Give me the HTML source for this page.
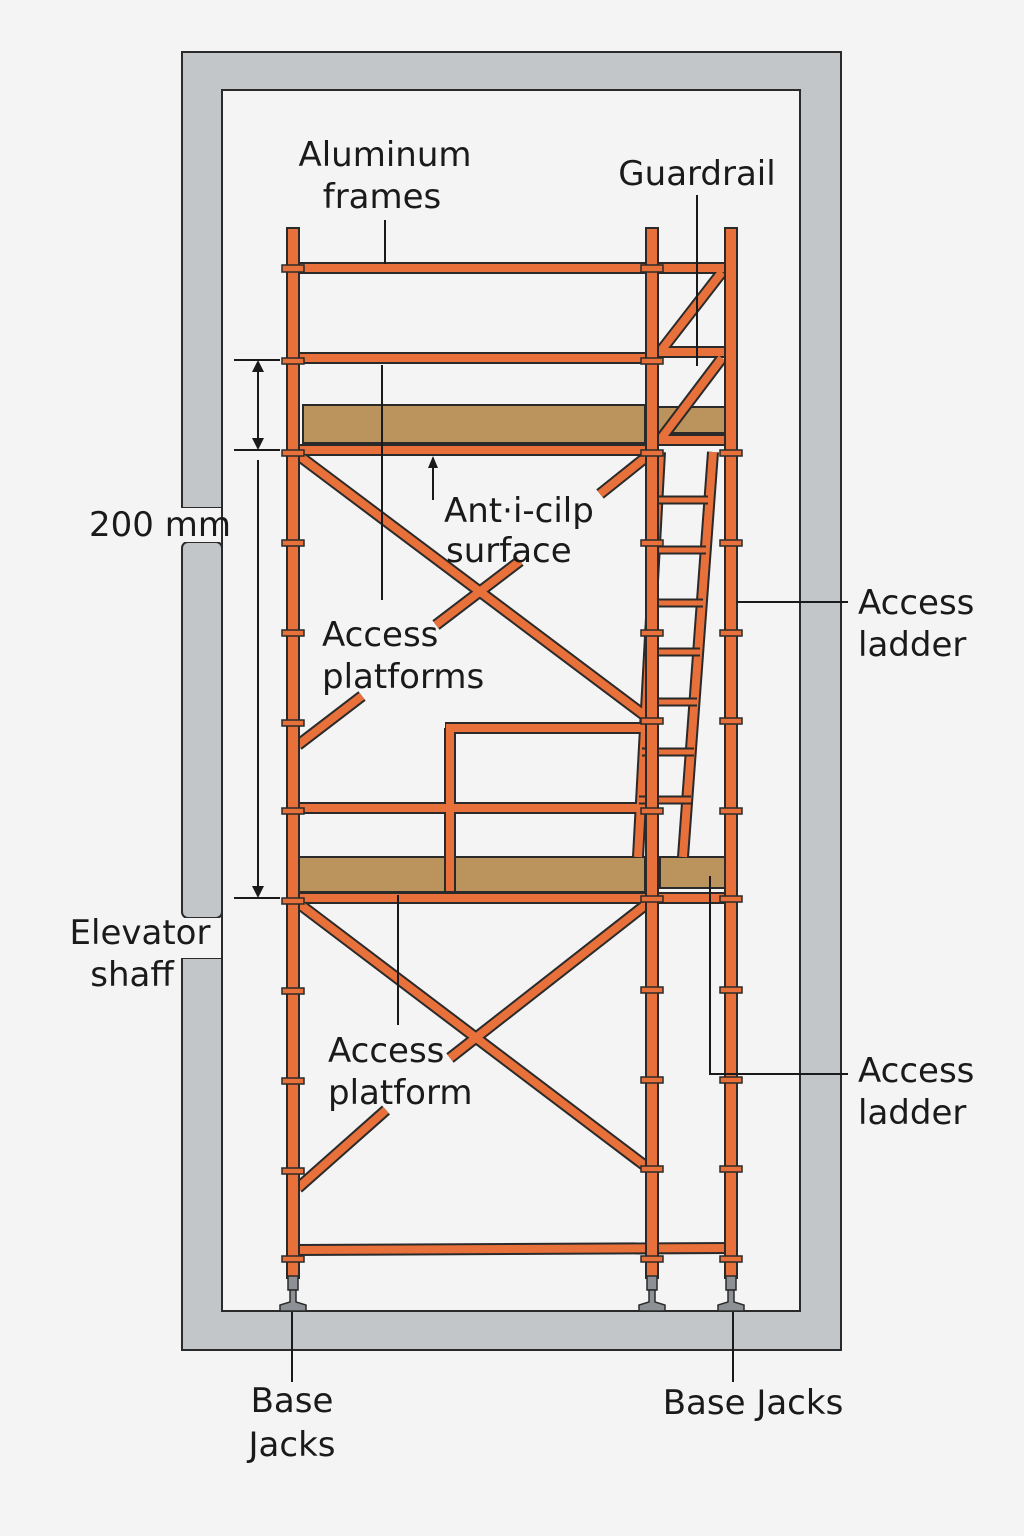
<!DOCTYPE html>
<html><head><meta charset="utf-8"><style>
html,body{margin:0;padding:0;background:#f4f4f4;}
svg{display:block}
text{font-family:"DejaVu Sans","Liberation Sans",sans-serif;fill:#1a1a1a;font-size:34px}
</style></head><body>
<svg width="1024" height="1536" viewBox="0 0 1024 1536" xmlns="http://www.w3.org/2000/svg">
<rect width="1024" height="1536" fill="#f4f4f4"/>
<g fill="#c3c6c8" stroke="#2a2a2a" stroke-width="2">
<path d="M182 52 H841 V1350 H182 V958 H222 V1311 H800 V90 H222 V508 H182 Z"/>
<rect x="182" y="542" width="40" height="376" rx="6"/>
</g>
<rect x="178" y="508" width="48" height="34" fill="#f4f4f4"/>
<rect x="178" y="918" width="48" height="40" fill="#f4f4f4"/>
<line x1="222" y1="508" x2="222" y2="958" stroke="#2a2a2a" stroke-width="2"/>

<g stroke="#2a2a2a" stroke-width="2">
<rect x="303" y="405" width="342" height="38" fill="#bb935c"/>
<rect x="657" y="407" width="71" height="26" fill="#bb935c"/>
<rect x="298" y="857" width="347" height="35" fill="#bb935c"/>
<rect x="660" y="857" width="70" height="31" fill="#bb935c"/>
</g>

<g stroke="#2a2a2a" stroke-width="12" stroke-linecap="butt">
<line x1="293" y1="268" x2="731" y2="268"/>
<line x1="293" y1="358" x2="652" y2="358"/>
<line x1="652" y1="352" x2="731" y2="352"/>
<line x1="293" y1="450" x2="652" y2="450"/>
<line x1="652" y1="440" x2="731" y2="440"/>
<line x1="298" y1="455" x2="648" y2="718"/>
<line x1="645" y1="458" x2="600" y2="494"/>
<line x1="436" y1="625" x2="520" y2="561"/>
<line x1="298" y1="745" x2="362" y2="696"/>
<line x1="660" y1="352" x2="722" y2="272"/>
<line x1="660" y1="440" x2="722" y2="358"/>
<line x1="293" y1="808" x2="645" y2="808"/>
<line x1="450" y1="728" x2="450" y2="892"/>
<line x1="445" y1="728" x2="648" y2="728"/>
<line x1="660" y1="452" x2="638" y2="857"/>
<line x1="713" y1="452" x2="683" y2="857"/>
<line x1="293" y1="898" x2="731" y2="898"/>
<line x1="298" y1="903" x2="648" y2="1168"/>
<line x1="648" y1="903" x2="450" y2="1058"/>
<line x1="386" y1="1110" x2="298" y2="1188"/>
<line x1="293" y1="1250" x2="731" y2="1248"/>
</g>
<g stroke="#e8703a" stroke-width="8" stroke-linecap="butt">
<line x1="294" y1="268" x2="730" y2="268"/>
<line x1="294" y1="358" x2="651" y2="358"/>
<line x1="653" y1="352" x2="730" y2="352"/>
<line x1="294" y1="450" x2="651" y2="450"/>
<line x1="653" y1="440" x2="730" y2="440"/>
<line x1="298" y1="455" x2="648" y2="718"/>
<line x1="645" y1="458" x2="600" y2="494"/>
<line x1="436" y1="625" x2="520" y2="561"/>
<line x1="298" y1="745" x2="362" y2="696"/>
<line x1="660" y1="352" x2="722" y2="272"/>
<line x1="660" y1="440" x2="722" y2="358"/>
<line x1="294" y1="808" x2="645" y2="808"/>
<line x1="450" y1="729" x2="450" y2="891"/>
<line x1="446" y1="728" x2="647" y2="728"/>
<line x1="660" y1="452" x2="638" y2="857"/>
<line x1="713" y1="452" x2="683" y2="857"/>
<line x1="294" y1="898" x2="730" y2="898"/>
<line x1="298" y1="903" x2="648" y2="1168"/>
<line x1="648" y1="903" x2="450" y2="1058"/>
<line x1="386" y1="1110" x2="298" y2="1188"/>
<line x1="294" y1="1250" x2="730" y2="1248"/>
</g>
<g stroke="#2a2a2a" stroke-width="9"><line x1="656" y1="500" x2="708" y2="500"/><line x1="654" y1="550" x2="706" y2="550"/><line x1="651" y1="603" x2="703" y2="603"/><line x1="648" y1="652" x2="700" y2="652"/><line x1="645" y1="702" x2="697" y2="702"/><line x1="642" y1="752" x2="694" y2="752"/><line x1="639" y1="800" x2="691" y2="800"/></g>
<g stroke="#e8703a" stroke-width="5"><line x1="656" y1="500" x2="708" y2="500"/><line x1="654" y1="550" x2="706" y2="550"/><line x1="651" y1="603" x2="703" y2="603"/><line x1="648" y1="652" x2="700" y2="652"/><line x1="645" y1="702" x2="697" y2="702"/><line x1="642" y1="752" x2="694" y2="752"/><line x1="639" y1="800" x2="691" y2="800"/></g>
<g fill="#e8703a" stroke="#2a2a2a" stroke-width="2">
<rect x="287" y="228" width="12" height="1050"/>
<rect x="646" y="228" width="12" height="1050"/>
<rect x="725" y="228" width="12" height="1050"/>
</g>
<g fill="#e8703a" stroke="#2a2a2a" stroke-width="1.5">
<rect x="282" y="265" width="22" height="7"/><rect x="641" y="265" width="22" height="7"/>
<rect x="282" y="358" width="22" height="6"/><rect x="641" y="358" width="22" height="6"/>
<rect x="282" y="450" width="22" height="6"/><rect x="641" y="450" width="22" height="6"/><rect x="720" y="450" width="22" height="6"/>
<rect x="282" y="540" width="22" height="6"/><rect x="641" y="540" width="22" height="6"/><rect x="720" y="540" width="22" height="6"/>
<rect x="282" y="630" width="22" height="6"/><rect x="641" y="630" width="22" height="6"/><rect x="720" y="630" width="22" height="6"/>
<rect x="282" y="720" width="22" height="6"/><rect x="641" y="718" width="22" height="6"/><rect x="720" y="718" width="22" height="6"/>
<rect x="282" y="808" width="22" height="6"/><rect x="641" y="808" width="22" height="6"/><rect x="720" y="808" width="22" height="6"/>
<rect x="282" y="898" width="22" height="6"/><rect x="641" y="896" width="22" height="6"/><rect x="720" y="896" width="22" height="6"/>
<rect x="282" y="988" width="22" height="6"/><rect x="641" y="987" width="22" height="6"/><rect x="720" y="987" width="22" height="6"/>
<rect x="282" y="1078" width="22" height="6"/><rect x="641" y="1077" width="22" height="6"/><rect x="720" y="1077" width="22" height="6"/>
<rect x="282" y="1168" width="22" height="6"/><rect x="641" y="1166" width="22" height="6"/><rect x="720" y="1166" width="22" height="6"/>
<rect x="282" y="1256" width="22" height="6"/><rect x="641" y="1256" width="22" height="6"/><rect x="720" y="1256" width="22" height="6"/>
</g>
<g fill="#8d9094" stroke="#2a2a2a" stroke-width="1.5">
<rect x="288" y="1276" width="10" height="14"/><path d="M290 1290 h6 v12 l10 3 v6 h-26 v-6 l10 -3z"/>
<rect x="647" y="1276" width="10" height="14"/><path d="M649 1290 h6 v12 l10 3 v6 h-26 v-6 l10 -3z"/>
<rect x="726" y="1276" width="10" height="14"/><path d="M728 1290 h6 v12 l10 3 v6 h-26 v-6 l10 -3z"/>
</g>
<g stroke="#1a1a1a" stroke-width="2" fill="none">
<line x1="385" y1="220" x2="385" y2="264"/>
<line x1="697" y1="195" x2="697" y2="366"/>
<line x1="382" y1="365" x2="382" y2="600"/>
<line x1="433" y1="458" x2="433" y2="500"/>
<line x1="737" y1="602" x2="848" y2="602"/>
<polyline points="710,876 710,1074 848,1074"/>
<line x1="398" y1="895" x2="398" y2="1025"/>
<line x1="292" y1="1312" x2="292" y2="1382"/>
<line x1="733" y1="1312" x2="733" y2="1382"/>
<line x1="234" y1="360" x2="280" y2="360"/>
<line x1="234" y1="450" x2="280" y2="450"/>
<line x1="234" y1="898" x2="280" y2="898"/>
<line x1="258" y1="370" x2="258" y2="440"/>
<line x1="258" y1="460" x2="258" y2="888"/>
</g>
<g fill="#1a1a1a">
<path d="M252 372 L258 360 L264 372Z"/><path d="M252 438 L258 450 L264 438Z"/>
<path d="M252 886 L258 898 L264 886Z"/>
<path d="M428 468 L433 456 L438 468Z"/>
</g>
<text x="385" y="166" text-anchor="middle">Aluminum</text>
<text x="382" y="208" text-anchor="middle">frames</text>
<text x="697" y="185" text-anchor="middle">Guardrail</text>
<text x="160" y="536" text-anchor="middle">200 mm</text>
<text x="444" y="522">Ant·i-cilp</text>
<text x="446" y="562">surface</text>
<text x="322" y="646">Access</text>
<text x="322" y="688">platforms</text>
<text x="858" y="614">Access</text>
<text x="858" y="656">ladder</text>
<text x="140" y="944" text-anchor="middle">Elevator</text>
<text x="132" y="986" text-anchor="middle">shaff</text>
<text x="328" y="1062">Access</text>
<text x="328" y="1104">platform</text>
<text x="858" y="1082">Access</text>
<text x="858" y="1124">ladder</text>
<text x="292" y="1412" text-anchor="middle">Base</text>
<text x="292" y="1456" text-anchor="middle">Jacks</text>
<text x="753" y="1414" text-anchor="middle">Base Jacks</text>
</svg>
</body></html>
